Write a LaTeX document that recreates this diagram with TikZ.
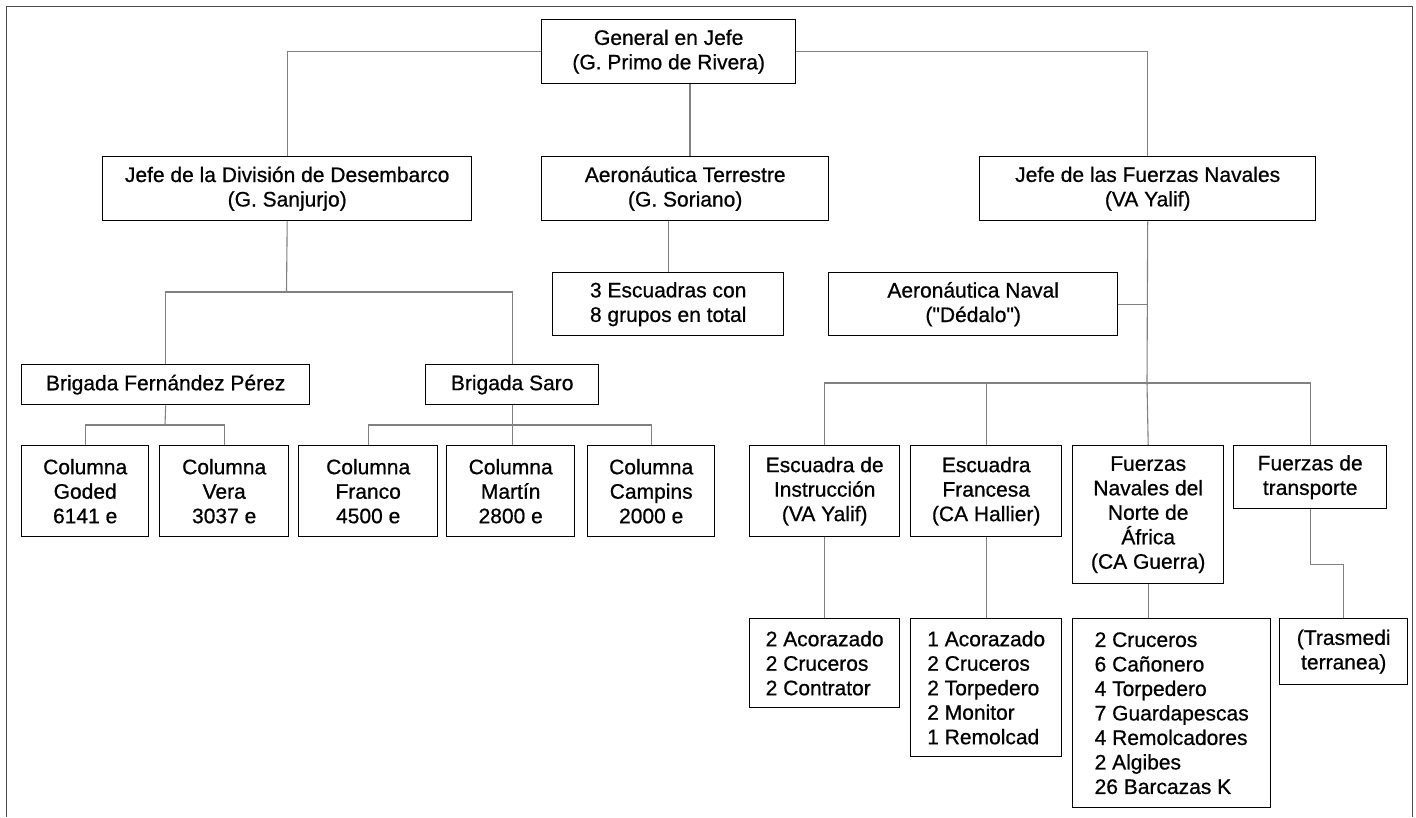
\documentclass[tikz,border=0pt]{standalone}
\usepackage{fontspec}
\setmainfont{Liberation Sans}
\newfontfamily\orgfont{Liberation Sans}[FakeBold=0.7]
\usepackage{tikz}

\begin{document}
\begin{tikzpicture}[x=1pt,y=-1pt,
    caja/.style={draw=black, line width=1.4pt, anchor=north west, align=center, inner sep=2pt,
        font=\orgfont\fontsize{21}{24.5}\selectfont},
    lista/.style={caja, align=left},
    con/.style={draw=black!50, line width=1.1pt}]
\useasboundingbox (0,0) rectangle (1416,817);
\draw[black!70, line width=1pt] (6,817) -- (6,6) -- (1412,6) -- (1412,817);

% Mando
\node[caja, minimum width=254, minimum height=64] (gen) at (541,19) {General en Jefe\\(G. Primo de Rivera)};
\node[caja, minimum width=369, minimum height=64] (desemb) at (102,156) {Jefe de la División de Desembarco\\(G. Sanjurjo)};
\node[caja, minimum width=287, minimum height=64] (aerot) at (541,156) {Aeronáutica Terrestre\\(G. Soriano)};
\node[caja, minimum width=336, minimum height=64] (navales) at (979,156) {Jefe de las Fuerzas Navales\\(VA Yalif)};
\node[caja, minimum width=231, minimum height=63] (escuadras) at (552,272) {3 Escuadras con\\8 grupos en total};
\node[caja, minimum width=289, minimum height=63] (aeronaval) at (828,272) {Aeronáutica Naval\\("Dédalo")};

% División de Desembarco
\node[caja, minimum width=288, minimum height=40] (bfp) at (21,364) {Brigada Fernández Pérez};
\node[caja, minimum width=173, minimum height=40] (bsaro) at (425,364) {Brigada Saro};
\node[caja, minimum width=127, minimum height=91] (goded) at (21,445) {Columna\\Goded\\6141 e};
\node[caja, minimum width=129, minimum height=91] (vera) at (159,445) {Columna\\Vera\\3037 e};
\node[caja, minimum width=139, minimum height=91] (franco) at (298,445) {Columna\\Franco\\4500 e};
\node[caja, minimum width=128, minimum height=91] (martin) at (446,445) {Columna\\Martín\\2800 e};
\node[caja, minimum width=127, minimum height=91] (campins) at (587,445) {Columna\\Campins\\2000 e};

% Fuerzas Navales
\node[caja, minimum width=150, minimum height=91] (instr) at (749,445) {Escuadra de\\Instrucción\\(VA Yalif)};
\node[caja, minimum width=151, minimum height=91] (francesa) at (910,445) {Escuadra\\Francesa\\(CA Hallier)};
\node[caja, minimum width=151, minimum height=138] (fnna) at (1072,445) {Fuerzas\\Navales del\\Norte de\\África\\(CA Guerra)};
\node[caja, minimum width=153, minimum height=63] (transp) at (1233,445) {Fuerzas de\\transporte};
\node[lista, minimum width=150, minimum height=89] (instrlista) at (749,618) {2 Acorazado\\2 Cruceros\\2 Contrator};
\node[lista, minimum width=151, minimum height=138] (franclista) at (910,618) {1 Acorazado\\2 Cruceros\\2 Torpedero\\2 Monitor\\1 Remolcad};
\node[lista, minimum width=198, minimum height=189] (fnnalista) at (1072,618) {2 Cruceros\\6 Cañonero\\4 Torpedero\\7 Guardapescas\\4 Remolcadores\\2 Algibes\\26 Barcazas K};
\node[caja, minimum width=128, minimum height=66] (trasmed) at (1279,618) {(Trasmedi\\terranea)};

% Conectores
\coordinate (busa) at (286.5,292);
\coordinate (busb) at (165,425);
\coordinate (busc) at (511.5,425);
\coordinate (busd) at (1147,383);
\draw[con] (gen.west) -| (desemb.north);
\draw[con] (gen.east) -| (navales.north);
\draw[con] (gen.south -| 690,0) -- (aerot.north -| 690,0);
\draw[con] (escuadras.north) -- (escuadras.north |- aerot.south);
\draw[con] (desemb.south) -- (busa);
\draw[con] (bfp.north) |- (busa) -| (bsaro.north);
\draw[con] (bfp.south) -- (busb);
\draw[con] (goded.north) |- (busb) -| (vera.north);
\draw[con] (franco.north) |- (busc) -| (campins.north);
\draw[con] (bsaro.south) -- (bsaro.south |- martin.north);
\draw[con] (navales.south) -- (busd) -- (fnna.north);
\draw[con] (aeronaval.east) -- (aeronaval.east -| navales.south);
\draw[con] (instr.north) |- (busd) -| (transp.north);
\draw[con] (francesa.north) |- (busd);
\draw[con] (instr.south) -- (instrlista.north);
\draw[con] (francesa.south) -- (franclista.north);
\draw[con] (fnna.south) -- (fnna.south |- fnnalista.north);
\draw[con] (transp.south) -- ++(0,55) -| (trasmed.north);
\end{tikzpicture}
\end{document}
